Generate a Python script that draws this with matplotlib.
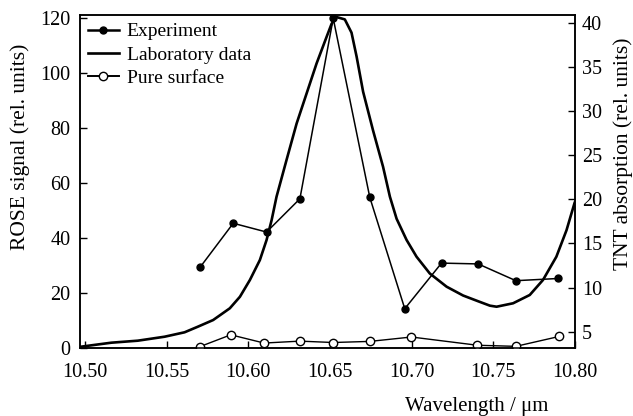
import matplotlib
matplotlib.use("Agg")
import matplotlib.pyplot as plt
from matplotlib.lines import Line2D

plt.rcParams['font.family'] = ['Liberation Serif', 'DejaVu Serif']

# Experiment (left axis)
exp_wl = [10.5704, 10.5908, 10.6112, 10.6316, 10.652, 10.6744, 10.6958, 10.7183, 10.7407, 10.7638, 10.7897]
exp_val = [29.3, 45.4, 42.2, 54.3, 120.0, 54.8, 14.3, 30.9, 30.6, 24.5, 25.3]

# Pure surface (left axis)
pure_wl = [10.5704, 10.5893, 10.6097, 10.6316, 10.652, 10.6744, 10.6999, 10.7403, 10.7638, 10.7903]
pure_val = [0.5, 4.8, 1.8, 2.5, 2.0, 2.4, 4.0, 1.0, 0.6, 4.2]

# Laboratory data (right axis, TNT absorption)
lab_wl = [10.4977, 10.5161, 10.5324, 10.5488, 10.5610, 10.5692, 10.5785, 10.5887, 10.5949, 10.6010,
          10.6071, 10.6112, 10.6143, 10.6173, 10.6234, 10.6296, 10.6357, 10.6418, 10.6479, 10.6510,
          10.6540, 10.6591, 10.6632, 10.6663, 10.6703, 10.6764, 10.6825, 10.6867, 10.6908, 10.6969,
          10.7030, 10.7111, 10.7214, 10.7315, 10.7407, 10.7479, 10.7520, 10.7621, 10.7723, 10.7804,
          10.7886, 10.7948, 10.7999]
lab_val = [3.30, 3.75, 3.98, 4.43, 4.93, 5.57, 6.32, 7.65, 8.96, 10.86,
           13.12, 15.39, 17.65, 20.3, 24.45, 28.6, 32.0, 35.4, 38.4, 39.9,
           40.67, 40.4, 38.9, 36.2, 32.2, 27.8, 23.7, 20.3, 17.8, 15.4,
           13.5, 11.6, 10.1, 9.1, 8.45, 7.95, 7.83, 8.22, 9.16, 10.86,
           13.5, 16.5, 19.7]

xticks = [10.50, 10.55, 10.60, 10.65, 10.70, 10.75, 10.80]
left_ticks = [0, 20, 40, 60, 80, 100, 120]
right_ticks = [5, 10, 15, 20, 25, 30, 35, 40]

fig = plt.figure(figsize=(6.33, 4.16), dpi=100)
ax = fig.add_axes([80/633, 1-348/416, 495/633, 333/416])
ax2 = ax.twinx()

ax.plot(exp_wl, exp_val, color='black', lw=1.1, marker='o', ms=5, mfc='black', mec='black', zorder=3)
ax.plot(pure_wl, pure_val, color='black', lw=1.0, marker='o', ms=6, mfc='white', mec='black', mew=1.0, zorder=3)
ax2.plot(lab_wl, lab_val, color='black', lw=1.9, zorder=2, solid_joinstyle='round', solid_capstyle='round')

ax.set_xlim(10.497, 10.80)
ax.set_ylim(0, 121.2)
ax2.set_ylim(3.15, 40.9)

ax.set_xticks(xticks)
ax.set_xticklabels([f"{t:.2f}" for t in xticks])
ax.set_yticks(left_ticks)
ax2.set_yticks(right_ticks)

for a in (ax, ax2):
    a.tick_params(direction='in', length=5, width=1, labelsize=14.5)
    for s in a.spines.values():
        s.set_linewidth(1.1)
ax.tick_params(axis='x', pad=11)
ax.tick_params(axis='y', pad=7)
ax2.tick_params(axis='y', pad=5)

ax.set_ylabel("ROSE signal (rel. units)", fontsize=15.5)
ax.yaxis.set_label_coords(-0.1, 0.604)
ax2.set_ylabel("TNT absorption (rel. units)", fontsize=15.5)
ax2.yaxis.set_label_coords(1.077, 0.583)
ax.set_xlabel("Wavelength / μm", fontsize=15)
ax.xaxis.set_label_coords(0.802, -0.177)
ax.xaxis.label.set_va('center')

handles = [
    Line2D([], [], color='black', lw=1.8, marker='o', ms=5, mfc='black'),
    Line2D([], [], color='black', lw=1.9),
    Line2D([], [], color='black', lw=1.4, marker='o', ms=6, mfc='white'),
]
ax.legend(handles, ["Experiment", "Laboratory data", "Pure surface"], loc='upper left',
          frameon=False, fontsize=14, handlelength=1.6, handletextpad=0.4,
          labelspacing=0.3, borderaxespad=0.0, bbox_to_anchor=(0.0, 1.0))

fig.savefig("out.png", dpi=100)
